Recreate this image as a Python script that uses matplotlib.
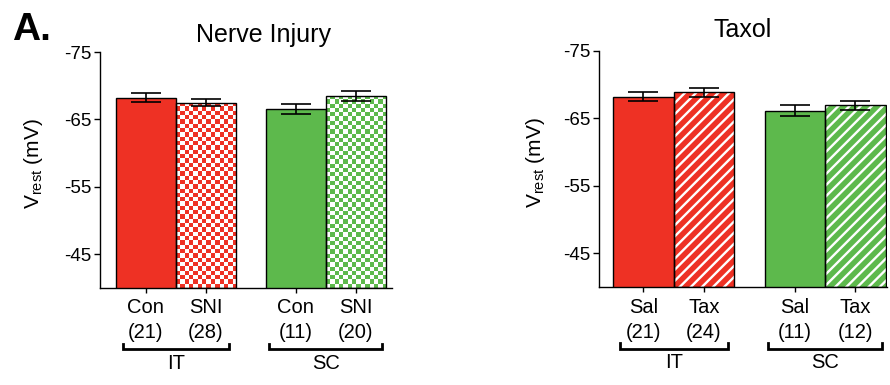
import matplotlib
matplotlib.use('Agg')
import matplotlib.pyplot as plt
import numpy as np
from matplotlib.colors import ListedColormap
from matplotlib.transforms import blended_transform_factory

plt.rcParams['font.family'] = ['Liberation Sans', 'DejaVu Sans']
plt.rcParams['hatch.linewidth'] = 1.7

RED = '#EE3124'
GREEN = '#5DB94C'

# Nerve injury panel
ni_names = ['Con', 'SNI', 'Con', 'SNI']
ni_n = ['21', '28', '11', '20']
ni_vals = [-68.2, -67.5, -66.5, -68.5]
ni_err = [0.65, 0.55, 0.75, 0.7]

# Taxol panel
tx_names = ['Sal', 'Tax', 'Sal', 'Tax']
tx_n = ['21', '24', '11', '12']
tx_vals = [-68.2, -68.85, -66.1, -66.9]
tx_err = [0.7, 0.67, 0.8, 0.72]

groups = ['IT', 'SC']
colors = [RED, RED, GREEN, GREEN]
pos = [0, 1, 2.5, 3.5]
base = -40

fig = plt.figure(figsize=(8.9, 3.85), dpi=100)
ax1 = fig.add_axes([0.1124, 0.2519, 0.328, 0.613])
ax2 = fig.add_axes([0.6727, 0.2538, 0.324, 0.6145])


def checker_bar(ax, bar, color):
    x0, y0 = bar.get_x(), bar.get_y()
    w, h = bar.get_width(), bar.get_height()
    nx = 14
    ny = int(round(abs(h) * 1.57))
    yy, xx = np.mgrid[0:ny, 0:nx]
    arr = (xx + yy) % 2
    im = ax.imshow(arr, cmap=ListedColormap(['white', color]),
                   extent=[x0, x0 + w, y0, y0 + h], aspect='auto',
                   interpolation='nearest', zorder=2)
    im.set_clip_path(bar)


def draw_panel(ax, names, ns, vals, errs, style, xlim):
    heights = [v - base for v in vals]
    for i in range(4):
        if i % 2 == 0:
            ax.bar(pos[i], heights[i], bottom=base, width=1, color=colors[i],
                   edgecolor='black', linewidth=1, zorder=3)
        elif style == 'check':
            b = ax.bar(pos[i], heights[i], bottom=base, width=1,
                       facecolor='none', edgecolor='none', zorder=1)[0]
            checker_bar(ax, b, colors[i])
            ax.bar(pos[i], heights[i], bottom=base, width=1, facecolor='none',
                   edgecolor='black', linewidth=1, zorder=3)
        else:
            ax.bar(pos[i], heights[i], bottom=base, width=1, color=colors[i],
                   edgecolor='white', linewidth=0, hatch='///', zorder=2)
            ax.bar(pos[i], heights[i], bottom=base, width=1, facecolor='none',
                   edgecolor='black', linewidth=1, zorder=3)
    ax.errorbar(pos, vals, yerr=errs, fmt='none', ecolor='black', capsize=11,
                elinewidth=1.2, capthick=1.2, zorder=4)

    ax.set_ylim(-40, -75)
    ax.set_xlim(*xlim)
    ax.set_yticks([-75, -65, -55, -45])
    ax.set_yticklabels(['-75', '-65', '-55', '-45'])
    ax.set_xticks(pos)
    ax.set_xticklabels([f'{a}\n({b})' for a, b in zip(names, ns)],
                       fontsize=14.5, linespacing=1.4)
    ax.tick_params(axis='y', labelsize=13.5, length=4, width=1, pad=2)
    ax.tick_params(axis='x', length=3.5, width=1, pad=4)
    for s in ['top', 'right']:
        ax.spines[s].set_visible(False)
    for s in ['left', 'bottom']:
        ax.spines[s].set_linewidth(1)
    ax.set_ylabel('$\\mathregular{V_{rest}}$ (mV)', fontsize=15)

    tr = blended_transform_factory(ax.transData, ax.transAxes)
    spans = [(-0.38, 1.39), (2.06, 3.94)]
    for (a, b), g in zip(spans, groups):
        ax.plot([a, a, b, b], [-0.237, -0.259, -0.259, -0.237], color='black',
                lw=2, transform=tr, clip_on=False, solid_joinstyle='miter')
        ax.text((a + b) / 2, -0.318, g, transform=tr, ha='center', va='center',
                fontsize=14.5)


draw_panel(ax1, ni_names, ni_n, ni_vals, ni_err, 'check', (-0.76, 4.1))
draw_panel(ax2, tx_names, tx_n, tx_vals, tx_err, 'hatch', (-0.74, 4.025))
ax1.yaxis.set_label_coords(-0.19, 0.525)
ax2.yaxis.set_label_coords(-0.18, 0.525)

fig.text(0.0135, 0.896, 'A.', fontsize=28, fontweight='bold', ha='left',
         va='baseline')
fig.text(0.2966, 0.8917, 'Nerve Injury', fontsize=18, ha='center',
         va='baseline')
fig.text(0.8343, 0.9047, 'Taxol', fontsize=18, ha='center', va='baseline')

fig.savefig('out.png', dpi=100)
